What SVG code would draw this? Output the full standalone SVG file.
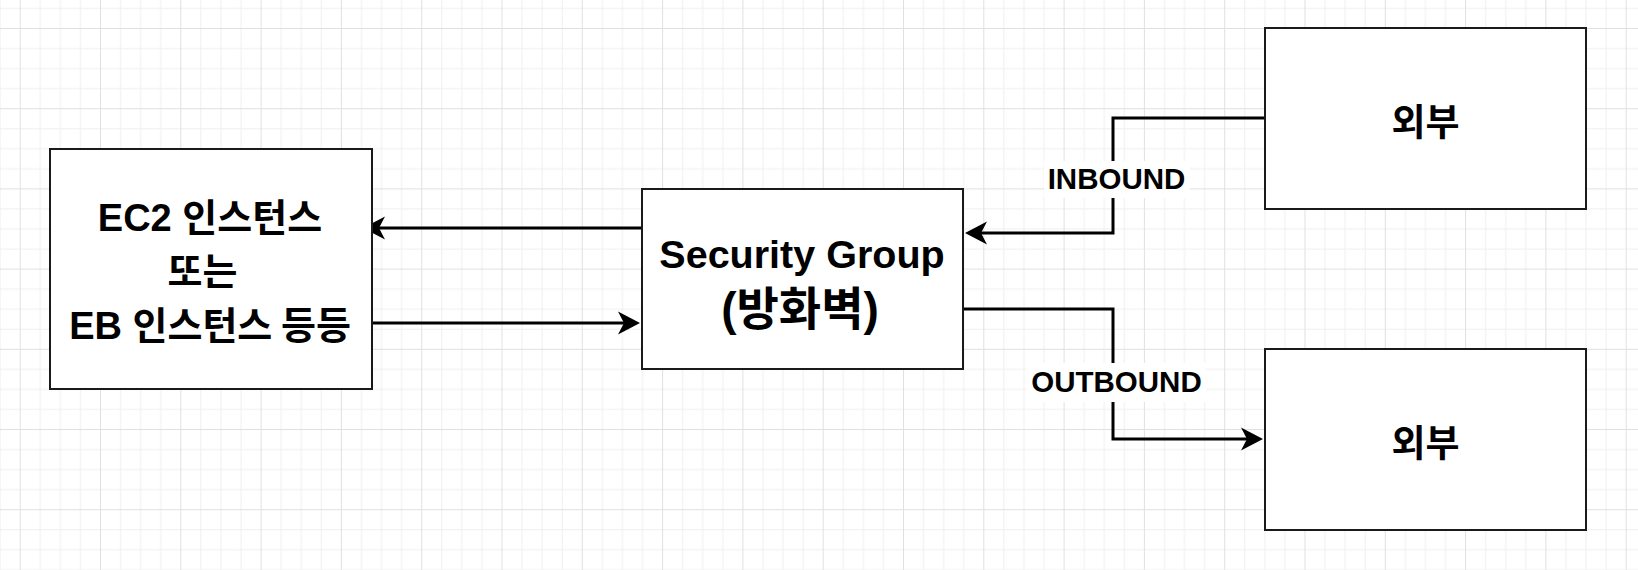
<svg xmlns="http://www.w3.org/2000/svg" width="1638" height="570" viewBox="0 0 1638 570">
<style>
.box{fill:#ffffff;stroke:#1a1a1a;stroke-width:2}
.t{font-family:"Liberation Sans","Noto Sans CJK KR",Arial,sans-serif;font-weight:bold;fill:#000;text-anchor:middle}
.k{font-family:"Noto Sans CJK KR","Liberation Sans",sans-serif;font-weight:bold}
.edge{fill:none;stroke:#000;stroke-width:3}
.lbl{font-family:"Liberation Sans",Arial,sans-serif;font-weight:bold;font-size:29.5px;fill:#000;text-anchor:middle}
</style>
<defs>
<pattern id="grid" x="19.7" y="28" width="80.3" height="80.2" patternUnits="userSpaceOnUse">
<rect x="20.075" y="0" width="1" height="80.2" fill="#efefef"/>
<rect x="40.15" y="0" width="1" height="80.2" fill="#efefef"/>
<rect x="60.225" y="0" width="1" height="80.2" fill="#efefef"/>
<rect x="0" y="20.05" width="80.3" height="1" fill="#efefef"/>
<rect x="0" y="40.1" width="80.3" height="1" fill="#efefef"/>
<rect x="0" y="60.15" width="80.3" height="1" fill="#efefef"/>
<rect x="0" y="0" width="1" height="80.2" fill="#e0e0e0"/>
<rect x="0" y="0" width="80.3" height="1" fill="#e0e0e0"/>
</pattern>
<marker id="arr" viewBox="0 0 22 24" markerWidth="22" markerHeight="24" refX="16" refY="12" markerUnits="userSpaceOnUse" orient="auto">
<path d="M0,0.5 L22,12 L0,23.5 L6,12 Z" fill="#000"/>
</marker>
</defs>
<rect x="0" y="0" width="1638" height="570" fill="#ffffff"/>
<rect x="0" y="0" width="1638" height="570" fill="url(#grid)"/>

<g id="connectors">
<path class="edge" d="M642,228 H369" marker-end="url(#arr)"/>
<path class="edge" d="M372,323 H634" marker-end="url(#arr)"/>
<path class="edge" d="M1265,118 H1113 V233 H971" marker-end="url(#arr)"/>
<path class="edge" d="M963,309 H1113 V439 H1257" marker-end="url(#arr)"/>
<rect x="1044" y="161" width="146" height="37" fill="#ffffff"/>
<text class="lbl" x="1116.5" y="188.5">INBOUND</text>
<rect x="1027" y="363" width="179" height="39" fill="#ffffff"/>
<text class="lbl" x="1116.5" y="392">OUTBOUND</text>
</g>

<g id="instance">
<rect class="box" x="50" y="149" width="322" height="240"/>
<text class="t" x="210" y="231" font-size="38">EC2 <tspan class="k">인스턴스</tspan></text>
<text class="t" x="202.5" y="285" font-size="38"><tspan class="k">또는</tspan></text>
<text class="t" x="210" y="339" font-size="38">EB <tspan class="k">인스턴스 등등</tspan></text>
</g>

<g id="security-group">
<rect class="box" x="642" y="189" width="321" height="180"/>
<text class="t" x="802" y="267.5" font-size="39.5">Security Group</text>
<text class="t" x="800" y="325" font-size="46">(<tspan class="k">방화벽</tspan>)</text>
</g>

<g id="external-top">
<rect class="box" x="1265" y="28" width="321" height="181"/>
<text class="t k" x="1425.5" y="135.5" font-size="37" text-anchor="middle">외부</text>
</g>

<g id="external-bottom">
<rect class="box" x="1265" y="349" width="321" height="181"/>
<text class="t k" x="1425.5" y="457" font-size="37" text-anchor="middle">외부</text>
</g>
</svg>
